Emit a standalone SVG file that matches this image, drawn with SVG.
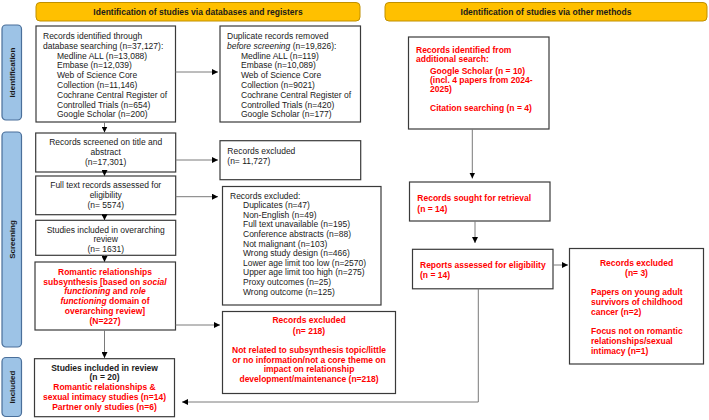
<svg xmlns="http://www.w3.org/2000/svg" width="709" height="420" viewBox="0 0 709 420">
<defs>
<marker id="ah" markerUnits="userSpaceOnUse" markerWidth="6" markerHeight="6" refX="6" refY="3" orient="auto"><path d="M0,0 L6,3 L0,6 z" fill="#000"/></marker>
<style>
.t{font-family:"Liberation Sans",Arial,sans-serif;font-size:8.5px;fill:#1a1a1a}
.b{font-weight:bold}
.r{fill:#ff0000;font-weight:bold}
.m{text-anchor:middle}
.box{fill:#fff;stroke:#3a3a3a;stroke-width:1.2}
.hdr{fill:#FFC000;stroke:#C09000;stroke-width:1}
.side{fill:#9DC3E6;stroke:#4A6F9A;stroke-width:1.2}
.sl{font-family:"Liberation Sans",Arial,sans-serif;font-size:8px;font-weight:bold;fill:#1a1a1a;text-anchor:middle}
.c{fill:none;stroke:#7a7a7a;stroke-width:1}
.i{font-style:italic}
</style>
</defs>

<g id="header-db"><rect class="hdr" x="36" y="2.5" width="324" height="18.5" rx="4"/><text class="t b m" x="198" y="15.3">Identification of studies via databases and registers</text></g>
<g id="header-other"><rect class="hdr" x="385" y="2.5" width="322" height="18.5" rx="4"/><text class="t b m" x="546" y="15.3">Identification of studies via other methods</text></g>

<g id="side-identification"><rect class="side" x="2" y="25" width="19.5" height="95" rx="4"/><text class="sl" transform="translate(14.8,72.5) rotate(-90)">Identification</text></g>
<g id="side-screening"><rect class="side" x="2" y="132" width="19.5" height="215" rx="4"/><text class="sl" transform="translate(14.8,239.5) rotate(-90)">Screening</text></g>
<g id="side-included"><rect class="side" x="2" y="357.5" width="19.5" height="59" rx="4"/><text class="sl" transform="translate(14.8,387) rotate(-90)">Included</text></g>

<g id="records-identified"><rect class="box" x="36" y="26" width="139.5" height="96"/>
<text class="t" x="43" y="39">Records identified through</text>
<text class="t" x="43" y="48.8">database searching (n=37,127):</text>
<text class="t" x="57" y="58.6">Medline ALL (n=13,088)</text>
<text class="t" x="57" y="68.4">Embase (n=12,039)</text>
<text class="t" x="57" y="78.2">Web of Science Core</text>
<text class="t" x="57" y="88">Collection (n=11,146)</text>
<text class="t" x="57" y="97.8">Cochrane Central Register of</text>
<text class="t" x="57" y="107.6">Controlled Trials (n=654)</text>
<text class="t" x="57" y="117.4">Google Scholar (n=200)</text>
</g>

<g id="duplicates-removed"><rect class="box" x="220" y="26" width="140.5" height="96"/>
<text class="t" x="227" y="39">Duplicate records removed</text>
<text class="t" x="227" y="48.8"><tspan class="i">before screening</tspan> (n=19,826):</text>
<text class="t" x="241" y="58.6">Medline ALL (n=119)</text>
<text class="t" x="241" y="68.4">Embase (n=10,089)</text>
<text class="t" x="241" y="78.2">Web of Science Core</text>
<text class="t" x="241" y="88">Collection (n=9021)</text>
<text class="t" x="241" y="97.8">Cochrane Central Register of</text>
<text class="t" x="241" y="107.6">Controlled Trials (n=420)</text>
<text class="t" x="241" y="117.4">Google Scholar (n=177)</text>
</g>

<g id="records-screened"><rect class="box" x="35.7" y="133" width="140" height="39"/>
<text class="t m" x="105.7" y="145.3">Records screened on title and</text>
<text class="t m" x="105.7" y="155">abstract</text>
<text class="t m" x="105.7" y="164.6">(n=17,301)</text>
</g>

<g id="excluded-11727"><rect class="box" x="220" y="140.7" width="140.7" height="39"/>
<text class="t" x="227.3" y="153.7">Records excluded</text>
<text class="t" x="227.3" y="163.5">(n= 11,727)</text>
</g>

<g id="full-text"><rect class="box" x="35.7" y="176" width="140" height="38.7"/>
<text class="t m" x="105.7" y="187.7">Full text records assessed for</text>
<text class="t m" x="105.7" y="197.5">eligibility</text>
<text class="t m" x="105.7" y="207.5">(n= 5574)</text>
</g>

<g id="excluded-list"><rect class="box" x="222.5" y="186.5" width="158.5" height="118.5"/>
<text class="t" x="230" y="198.5">Records excluded:</text>
<text class="t" x="243" y="208.1">Duplicates (n=47)</text>
<text class="t" x="243" y="217.7">Non-English (n=49)</text>
<text class="t" x="243" y="227.3">Full text unavailable (n=195)</text>
<text class="t" x="243" y="236.9">Conference abstracts (n=88)</text>
<text class="t" x="243" y="246.5">Not malignant (n=103)</text>
<text class="t" x="243" y="256.1">Wrong study design (n=466)</text>
<text class="t" x="243" y="265.7">Lower age limit too low (n=2570)</text>
<text class="t" x="243" y="275.3">Upper age limit too high (n=275)</text>
<text class="t" x="243" y="284.9">Proxy outcomes (n=25)</text>
<text class="t" x="243" y="294.5">Wrong outcome (n=125)</text>
</g>

<g id="overarching"><rect class="box" x="35.7" y="220.3" width="140" height="35"/>
<text class="t m" x="105.7" y="232.7">Studies included in overarching</text>
<text class="t m" x="105.7" y="242.2">review</text>
<text class="t m" x="105.7" y="252">(n= 1631)</text>
</g>

<g id="romantic-subsynthesis"><rect class="box" x="35" y="262" width="140.5" height="68"/>
<text class="t r m" x="105" y="274.7">Romantic relationships</text>
<text class="t r m" x="105" y="284.5">subsynthesis [based on <tspan class="i">social</tspan></text>
<text class="t r m" x="105" y="294.3"><tspan class="i">functioning</tspan> and <tspan class="i">role</tspan></text>
<text class="t r m" x="105" y="304.1"><tspan class="i">functioning</tspan> domain of</text>
<text class="t r m" x="105" y="313.9">overarching review]</text>
<text class="t r m" x="105" y="323.7">(N=227)</text>
</g>

<g id="excluded-218"><rect class="box" x="222.5" y="311.5" width="173" height="82"/>
<text class="t r m" x="309" y="323.3">Records excluded</text>
<text class="t r m" x="309" y="333.5">(n= 218)</text>
<text class="t r m" x="309" y="353">Not related to subsynthesis topic/little</text>
<text class="t r m" x="309" y="362.8">or no information/not a core theme on</text>
<text class="t r m" x="309" y="372.4">impact on relationship</text>
<text class="t r m" x="309" y="382.2">development/maintenance (n=218)</text>
</g>

<g id="included"><rect class="box" x="34.5" y="358.7" width="140" height="58"/>
<text class="t b m" x="104.5" y="370.7">Studies included in review</text>
<text class="t b m" x="104.5" y="380.4">(n = 20)</text>
<text class="t r m" x="104.5" y="390.1">Romantic relationships &amp;</text>
<text class="t r m" x="104.5" y="399.8">sexual intimacy studies (n=14)</text>
<text class="t r m" x="104.5" y="409.5">Partner only studies (n=6)</text>
</g>

<g id="additional-search"><rect class="box" x="408.5" y="37" width="140.5" height="92"/>
<text class="t r" x="416" y="53">Records identified from</text>
<text class="t r" x="416" y="62.3">additional search:</text>
<text class="t r" x="430" y="73.7">Google Scholar (n = 10)</text>
<text class="t r" x="430" y="83">(incl. 4 papers from 2024-</text>
<text class="t r" x="430" y="92.4">2025)</text>
<text class="t r" x="430" y="111.3">Citation searching (n = 4)</text>
</g>

<g id="sought-retrieval"><rect class="box" x="409.5" y="182" width="140.5" height="39"/>
<text class="t r" x="417.3" y="200.7">Records sought for retrieval</text>
<text class="t r" x="417.3" y="212">(n = 14)</text>
</g>

<g id="reports-assessed"><rect class="box" x="412.5" y="249.3" width="140.5" height="39.5"/>
<text class="t r" x="420" y="268">Reports assessed for eligibility</text>
<text class="t r" x="420" y="278">(n = 14)</text>
</g>

<g id="excluded-3"><rect class="box" x="569.5" y="248.5" width="134" height="115.5"/>
<text class="t r m" x="636.5" y="266.3">Records excluded</text>
<text class="t r m" x="636.5" y="276.3">(n= 3)</text>
<text class="t r" x="591" y="295.3">Papers on young adult</text>
<text class="t r" x="591" y="304.8">survivors of childhood</text>
<text class="t r" x="591" y="314.6">cancer (n=2)</text>
<text class="t r" x="591" y="334">Focus not on romantic</text>
<text class="t r" x="591" y="343.7">relationships/sexual</text>
<text class="t r" x="591" y="353.5">intimacy (n=1)</text>
</g>

<g id="connectors">
<path class="c" d="M175.5,72 H218" marker-end="url(#ah)"/>
<path class="c" d="M104.5,122 V132.5" marker-end="url(#ah)"/>
<path class="c" d="M175.7,160 H218" marker-end="url(#ah)"/>
<path class="c" d="M104.5,172 V176" marker-end="url(#ah)"/>
<path class="c" d="M175.7,196.7 H218" marker-end="url(#ah)"/>
<path class="c" d="M104.5,214.7 V220.3" marker-end="url(#ah)"/>
<path class="c" d="M104.5,255.3 V262" marker-end="url(#ah)"/>
<path class="c" d="M175.5,325 H220" marker-end="url(#ah)"/>
<path class="c" d="M104.5,330 V358" marker-end="url(#ah)"/>
<path class="c" d="M472.3,129 V178.5" marker-end="url(#ah)"/>
<path class="c" d="M475,221 V243" marker-end="url(#ah)"/>
<path class="c" d="M553,265 H568" marker-end="url(#ah)"/>
<path class="c" d="M478.3,288.8 V402 H182" marker-end="url(#ah)"/>
</g>
</svg>
